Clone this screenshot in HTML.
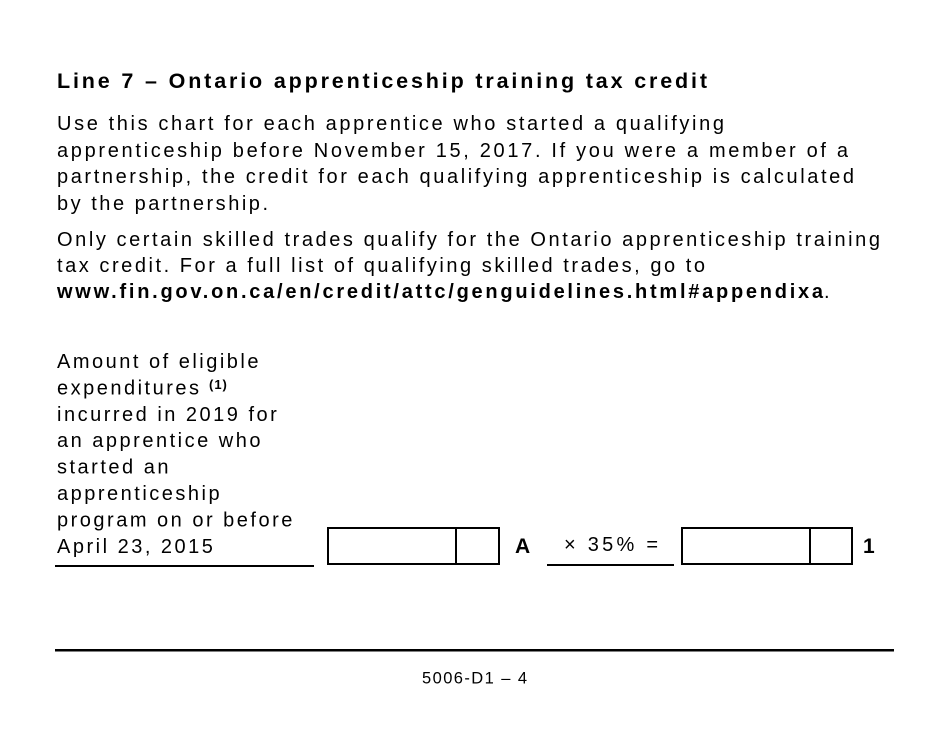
<!DOCTYPE html>
<html>
<head>
<meta charset="utf-8">
<style>
html,body{margin:0;padding:0;background:#fff;}
svg{display:block;}
text{font-family:"Liberation Sans",Arial,sans-serif;fill:#000;}
.b{font-weight:bold;}
</style>
</head>
<body>
<svg width="950" height="733" viewBox="0 0 950 733" xmlns="http://www.w3.org/2000/svg">
  <text class="b" x="57" y="88" font-size="21.5" textLength="650" lengthAdjust="spacing">Line 7 – Ontario apprenticeship training tax credit</text>

  <g font-size="20">
    <text x="57" y="130" textLength="667" lengthAdjust="spacing">Use this chart for each apprentice who started a qualifying</text>
    <text x="57" y="157" textLength="791" lengthAdjust="spacing">apprenticeship before November 15, 2017. If you were a member of a</text>
    <text x="57" y="183" textLength="797" lengthAdjust="spacing">partnership, the credit for each qualifying apprenticeship is calculated</text>
    <text x="57" y="210" textLength="211" lengthAdjust="spacing">by the partnership.</text>

    <text x="57" y="246" textLength="823" lengthAdjust="spacing">Only certain skilled trades qualify for the Ontario apprenticeship training</text>
    <text x="57" y="272" textLength="648" lengthAdjust="spacing">tax credit. For a full list of qualifying skilled trades, go to</text>
    <text class="b" x="57" y="298" textLength="766" lengthAdjust="spacing">www.fin.gov.on.ca/en/credit/attc/genguidelines.html#appendixa</text>
    <text x="824" y="298">.</text>

    <g letter-spacing="2.5">
      <text x="57" y="368">Amount of eligible</text>
      <text x="57" y="394.4">expenditures</text>
      <text x="57" y="420.8">incurred in 2019 for</text>
      <text x="57" y="447.2">an apprentice who</text>
      <text x="57" y="473.6">started an</text>
      <text x="57" y="500">apprenticeship</text>
      <text x="57" y="526.4">program on or before</text>
      <text x="57" y="552.8">April 23, 2015</text>
    </g>
  </g>
  <text class="b" x="209" y="389" font-size="13" letter-spacing="1">(1)</text>

  <!-- left underline -->
  <rect x="55" y="565" width="259" height="2" fill="#000"/>

  <!-- box 1 -->
  <rect x="328" y="528" width="171" height="36" fill="none" stroke="#000" stroke-width="2"/>
  <line x1="456" y1="527" x2="456" y2="565" stroke="#000" stroke-width="2"/>
  <text class="b" x="515" y="553" font-size="21">A</text>

  <text x="564" y="551" font-size="20" textLength="94" lengthAdjust="spacing">× 35% =</text>
  <rect x="547" y="564" width="127" height="2" fill="#000"/>

  <!-- box 2 -->
  <rect x="682" y="528" width="170" height="36" fill="none" stroke="#000" stroke-width="2"/>
  <line x1="810" y1="527" x2="810" y2="565" stroke="#000" stroke-width="2"/>
  <text class="b" x="863" y="553" font-size="21">1</text>

  <!-- bottom rule -->
  <rect x="55" y="649" width="839" height="2.5" fill="#000"/>
  <text x="422" y="683.5" font-size="16.5" textLength="105" lengthAdjust="spacing">5006-D1 – 4</text>
</svg>
</body>
</html>
